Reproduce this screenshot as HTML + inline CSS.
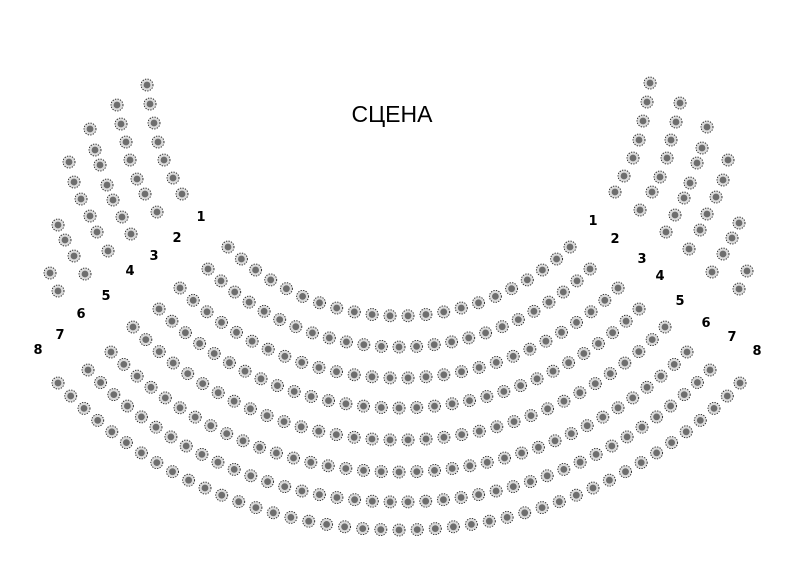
<!DOCTYPE html>
<html><head><meta charset="utf-8"><style>
html,body{margin:0;padding:0;background:#fff;width:800px;height:567px;overflow:hidden}
svg{display:block}
.l{font-family:"DejaVu Sans","Liberation Sans",sans-serif;font-size:13px;font-weight:bold;fill:#000;text-anchor:middle}
</style></head><body>
<svg id="s" width="800" height="567" viewBox="0 0 800 567" xmlns="http://www.w3.org/2000/svg">
<text x="392" y="122" font-family="Liberation Sans, sans-serif" font-size="23" text-anchor="middle" fill="#000">СЦЕНА</text>
<g class="lab">
<text class="l" x="201" y="221">1</text><text class="l" x="177" y="242">2</text><text class="l" x="154" y="260">3</text><text class="l" x="130" y="275">4</text><text class="l" x="106" y="300">5</text><text class="l" x="81" y="318">6</text><text class="l" x="60" y="339">7</text><text class="l" x="38" y="354">8</text>
<text class="l" x="593" y="225">1</text><text class="l" x="615" y="243">2</text><text class="l" x="642" y="263">3</text><text class="l" x="660" y="280">4</text><text class="l" x="680" y="305">5</text><text class="l" x="706" y="327">6</text><text class="l" x="732" y="341">7</text><text class="l" x="757" y="355">8</text>
</g>
<g id="seats"></g>
</svg>
<script>
var g=document.getElementById('seats'),h='';
function seat(x,y){h+='<circle cx="'+x.toFixed(1)+'" cy="'+y.toFixed(1)+'" r="6" fill="#dcdcdc" stroke="#222" stroke-width="0.9" stroke-dasharray="1.3,1.3"/><circle cx="'+x.toFixed(1)+'" cy="'+y.toFixed(1)+'" r="3.4" fill="#6e6e6e"/>';}
var C=399;
var rows=[[316,570,247],[347,590,269],[378,618,288],[408,639,309],[440,665,327],[472,687,352],[502,710,370],[530,740,383]];
rows.forEach(function(r){
 var b=r[0],x=r[1],y=r[2],dx=x-C;
 var cy=(b*b-y*y-dx*dx)/(2*(b-y)),R=b-cy;
 var th=Math.atan2(dx,y-cy);
 var n=Math.round(2*th*R/18);
 for(var i=0;i<=n;i++){var a=-th+2*th*i/n;seat(C+R*Math.sin(a),cy+R*Math.cos(a));}
});
var side=[
[[650,83],[647,102],[643,121],[639,140],[633,158],[624,176],[615,192]],
[[680,103],[676,122],[671,140],[667,158],[660,177],[652,192],[640,210]],
[[707,127],[702,148],[697,163],[690,183],[684,198],[675,215],[666,232]],
[[728,160],[723,180],[716,197],[707,214],[700,230],[689,249]],
[[739,223],[732,238],[723,254],[712,272]],
[[747,271],[739,289]]];
side.forEach(function(c){c.forEach(function(p){seat(p[0],p[1]);seat(797-p[0],p[1]+2);});});
g.innerHTML=h;
</script>
</body></html>
